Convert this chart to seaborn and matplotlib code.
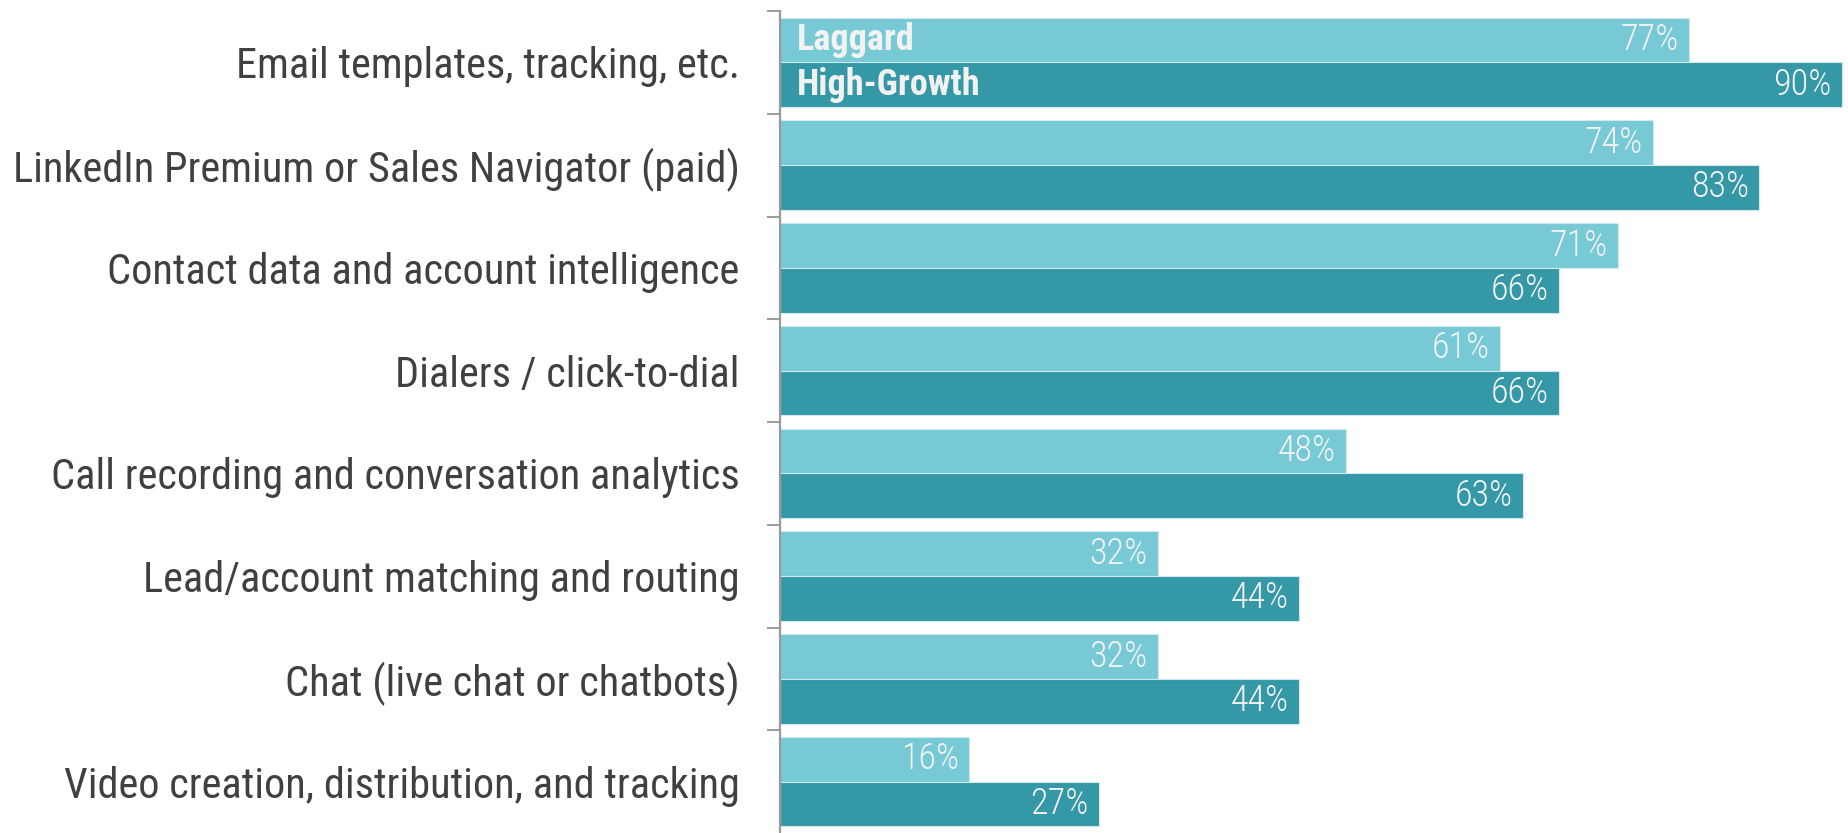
import matplotlib
matplotlib.use("Agg")
import matplotlib.pyplot as plt
import matplotlib.transforms as mtransforms
from matplotlib import font_manager as fm
from matplotlib.ticker import FixedLocator
import numpy as np
import pandas as pd
import seaborn as sns

categories = [
    "Email templates, tracking, etc.",
    "LinkedIn Premium or Sales Navigator (paid)",
    "Contact data and account intelligence",
    "Dialers / click-to-dial",
    "Call recording and conversation analytics",
    "Lead/account matching and routing",
    "Chat (live chat or chatbots)",
    "Video creation, distribution, and tracking",
]
laggard = [77, 74, 71, 61, 48, 32, 32, 16]
high_growth = [90, 83, 66, 66, 63, 44, 44, 27]
groups = ["Laggard", "High-Growth"]
colors = ["#77CAD5", "#3498A6"]

df = pd.DataFrame({
    "tool": categories * 2,
    "share": laggard + high_growth,
    "group": [groups[0]] * len(categories) + [groups[1]] * len(categories),
})

# narrow sans-serif face, with a fallback chain
available = {f.name for f in fm.fontManager.ttflist}
narrow_candidates = ["Liberation Sans Narrow", "Arial Narrow", "Roboto Condensed",
                     "Archivo Narrow", "PT Sans Narrow", "Open Sans Condensed"]
narrow = next((n for n in narrow_candidates if n in available), "DejaVu Sans")

sns.set_theme(style="white")
plt.rcParams["font.family"] = [narrow, "DejaVu Sans"]

fig = plt.figure(figsize=(18.49, 8.33), dpi=100)
ax = fig.add_axes([780 / 1849, 0.0, 1 - 780 / 1849, 1 - 11 / 833])

sns.barplot(
    data=df, x="share", y="tool", hue="group", order=categories,
    hue_order=groups, palette=colors, saturation=1, orient="h", width=0.87,
    gap=0, edgecolor="#cfeaee", linewidth=0.8, legend=False, ax=ax,
)

ax.set_xlim(0, 90.6)
ax.set_ylim(len(categories) - 0.5, -0.5)
ax.set_xlabel("")
ax.set_ylabel("")
ax.xaxis.set_visible(False)
for side in ["top", "right", "bottom"]:
    ax.spines[side].set_visible(False)
ax.spines["left"].set_color("#9a9a9a")
ax.spines["left"].set_linewidth(1.6)

# category boundary ticks
ax.yaxis.set_minor_locator(FixedLocator(np.arange(-0.5, len(categories) - 0.5, 1.0)))
ax.tick_params(axis="y", which="minor", length=9.5, width=1.4, color="#9a9a9a",
               direction="out", left=True)
ax.tick_params(axis="y", which="major", length=0, pad=29, labelsize=30.5,
               labelcolor="#404040")

# value labels inside bar ends
val_off = mtransforms.offset_copy(ax.transData, fig=fig, x=-10, y=0, units="dots")
for container in ax.containers:
    for bar in container:
        w = bar.get_width()
        yc = bar.get_y() + bar.get_height() / 2
        ax.text(w, yc, f"{w:.0f}%", transform=val_off, ha="right", va="center",
                fontsize=26, fontweight="light", color="#f2f2f2")

# series names inside the first pair of bars
name_off = mtransforms.offset_copy(ax.transData, fig=fig, x=17, y=0, units="dots")
for container, name in zip(ax.containers, groups):
    bar = container[0]
    yc = bar.get_y() + bar.get_height() / 2
    ax.text(0, yc, name, transform=name_off, ha="left", va="center",
            fontsize=26, fontweight="bold", color="#f2f2f2")

fig.savefig("out.png", dpi=100)
